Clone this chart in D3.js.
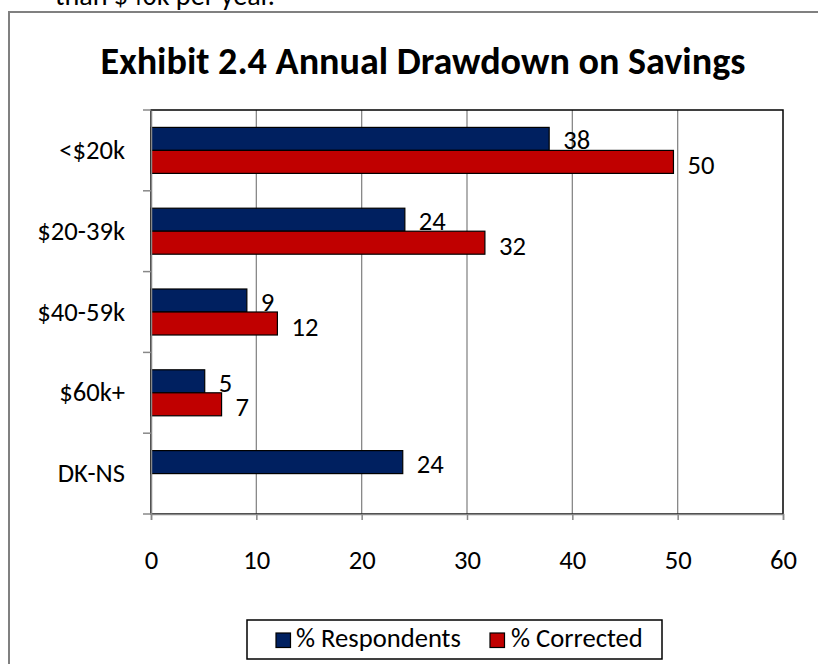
<!DOCTYPE html>
<html><head><meta charset="utf-8">
<script src="https://cdn.jsdelivr.net/npm/d3@7/dist/d3.min.js"></script>
<style>
html,body{margin:0;padding:0;background:#fff;}
svg{display:block;}
</style></head><body>
<script>
const categories = ["<$20k", "$20-39k", "$40-59k", "$60k+", "DK-NS"];
const respondents = [37.8, 24.1, 9.1, 5.1, 23.9];
const corrected = [49.6, 31.7, 12.0, 6.7, null];
const respondentLabels = ["38", "24", "9", "5", "24"];
const correctedLabels = ["50", "32", "12", "7", null];
const seriesNames = ["% Respondents", "% Corrected"];
const xTicks = [0, 10, 20, 30, 40, 50, 60];
const titleText = "Exhibit 2.4 Annual Drawdown on Savings";
const aboveText = "than $40k per year.";

const FONT = "Carlito, Lato, 'Open Sans', sans-serif";
const W = 818, H = 664;
const colors = ["#002060", "#C00000"];
const plot = {l: 151, r: 783, t: 110, b: 514};

const svg = d3.select("body").append("svg").attr("width", W).attr("height", H)
  .attr("font-family", FONT);

// font size that makes a given string reach a given width
function sizeFor(str, width, weight) {
  const t = svg.append("text").attr("font-size", 100).attr("font-weight", weight || "normal").text(str);
  const w = t.node().getComputedTextLength();
  t.remove();
  return 100 * width / w;
}
const S = sizeFor(seriesNames[0], 165);
const titleSize = sizeFor(titleText, 645, "bold");
const topSize = sizeFor(aboveText, 220);

// text from the document above, clipped at top
svg.append("text").attr("x", 55).attr("y", 5).attr("font-size", topSize).attr("fill", "#000").text(aboveText);

// outer chart frame
svg.append("rect").attr("x", 9).attr("y", 12).attr("width", W + 20).attr("height", H + 20)
  .attr("fill", "none").attr("stroke", "#808080").attr("stroke-width", 2);

svg.append("text").attr("x", 423).attr("y", 74).attr("text-anchor", "middle")
  .attr("font-size", titleSize).attr("font-weight", "bold").text(titleText);

const x = d3.scaleLinear().domain([0, 60]).range([plot.l, plot.r]);
const y = d3.scaleBand().domain(categories).range([plot.t, plot.b]).padding(0);
const inner = d3.scaleBand().domain([0, 1]).range([0, 46]);

// gridlines
svg.append("g").selectAll("line").data(xTicks.slice(1, -1)).join("line")
  .attr("x1", d => x(d)).attr("x2", d => x(d)).attr("y1", plot.t).attr("y2", plot.b)
  .attr("stroke", "#888").attr("stroke-width", 1.3);

// plot border
svg.append("rect").attr("x", plot.l).attr("y", plot.t).attr("width", plot.r - plot.l).attr("height", plot.b - plot.t)
  .attr("fill", "none").attr("stroke", "#000").attr("stroke-width", 1.5);

const series = [respondents, corrected];
const labels = [respondentLabels, correctedLabels];
const off = (y.bandwidth() - 46) / 2;
series.forEach((vals, si) => {
  const g = svg.append("g");
  const data = categories.map((c, i) => ({c, v: vals[i], lab: labels[si][i]})).filter(d => d.v != null);
  g.selectAll("rect").data(data).join("rect")
    .attr("x", x(0)).attr("y", d => y(d.c) + off + inner(si))
    .attr("width", d => x(d.v) - x(0)).attr("height", inner.bandwidth())
    .attr("fill", colors[si]).attr("stroke", "#000").attr("stroke-width", 1.2);
  g.selectAll("text").data(data).join("text")
    .attr("x", d => x(d.v) + 14)
    .attr("y", d => y(d.c) + off + inner(si) + inner.bandwidth() / 2 + S * 0.36 + (si === 0 ? 1 : 2.5))
    .attr("font-size", S).text(d => d.lab);
});

// y axis
const yAxis = svg.append("g").attr("transform", `translate(${plot.l},0)`)
  .call(d3.axisLeft(y).tickSize(0).tickPadding(26))
  .attr("font-family", FONT).attr("font-size", S);
yAxis.select(".domain").attr("stroke", "#888").attr("stroke-width", 1.5);
yAxis.selectAll("text").attr("fill", "#000");
// category boundary ticks
svg.append("g").selectAll("line").data(d3.range(categories.length + 1)).join("line")
  .attr("x1", plot.l - 8).attr("x2", plot.l)
  .attr("y1", i => plot.t + i * y.step()).attr("y2", i => plot.t + i * y.step())
  .attr("stroke", "#888").attr("stroke-width", 1.5);

// x axis
const xAxis = svg.append("g").attr("transform", `translate(0,${plot.b})`)
  .call(d3.axisBottom(x).tickValues(xTicks).tickSize(6).tickPadding(0))
  .attr("font-family", FONT).attr("font-size", S);
xAxis.select(".domain").attr("stroke", "#888").attr("stroke-width", 1.5);
xAxis.selectAll("line").attr("stroke", "#888").attr("stroke-width", 1.5);
xAxis.selectAll("text").attr("fill", "#000").attr("dy", null).attr("y", 569 - plot.b);

// legend
const lg = svg.append("g");
lg.append("rect").attr("x", 247).attr("y", 620).attr("width", 415).attr("height", 39)
  .attr("fill", "#fff").attr("stroke", "#000").attr("stroke-width", 1.5);
const lx = [276, 490];
const tx = [296, 511];
seriesNames.forEach((n, i) => {
  lg.append("rect").attr("x", lx[i]).attr("y", 633).attr("width", 14.5).attr("height", 14.5)
    .attr("fill", colors[i]).attr("stroke", "#000").attr("stroke-width", 1.2);
  lg.append("text").attr("x", tx[i]).attr("y", 647).attr("font-size", S).text(n);
});
</script>
</body></html>
